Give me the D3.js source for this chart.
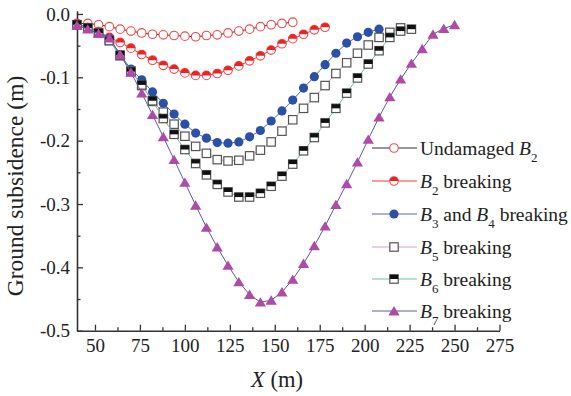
<!DOCTYPE html>
<html>
<head>
<meta charset="utf-8">
<script src="https://cdn.jsdelivr.net/npm/d3@7"></script>
<style>
  body { margin: 0; background: #fff; }
  svg { display: block; font-family: "Liberation Serif", "Times New Roman", serif; }
</style>
</head>
<body>
<svg id="chart" width="571" height="396"></svg>
<script>
// X position (m) of each measuring point
const xPos = [40, 46, 52, 58, 64, 70, 76, 82, 88, 94, 100, 106, 112, 118, 124, 130, 136, 142,
  148, 154, 160, 166, 172, 178, 184, 190, 196, 202, 208, 214, 220, 226, 232, 238, 244, 250];

const undamagedB2 = [-0.015, -0.015, -0.017, -0.020, -0.024, -0.027, -0.030, -0.032, -0.033, -0.034,
  -0.035, -0.036, -0.034, -0.033, -0.030, -0.027, -0.024, -0.020, -0.017, -0.015, -0.013];
const b2Breaking = [-0.016, -0.021, -0.028, -0.037, -0.045, -0.054, -0.064, -0.073, -0.081, -0.087,
  -0.093, -0.097, -0.097, -0.094, -0.089, -0.082, -0.074, -0.066, -0.057, -0.047, -0.039, -0.032,
  -0.025, -0.021];
const b3b4Breaking = [-0.017, -0.022, -0.030, -0.039, -0.064, -0.087, -0.104, -0.123, -0.141, -0.158,
  -0.174, -0.188, -0.196, -0.203, -0.204, -0.202, -0.194, -0.184, -0.169, -0.153, -0.136, -0.117,
  -0.099, -0.080, -0.062, -0.046, -0.036, -0.029, -0.024];
const b5Breaking = [-0.017, -0.022, -0.030, -0.042, -0.066, -0.090, -0.113, -0.138, -0.155, -0.174,
  -0.193, -0.209, -0.220, -0.230, -0.232, -0.231, -0.224, -0.215, -0.202, -0.185, -0.167, -0.149,
  -0.132, -0.113, -0.094, -0.077, -0.062, -0.049, -0.037, -0.029, -0.022];
const b6Breaking = [-0.017, -0.022, -0.030, -0.042, -0.065, -0.091, -0.112, -0.137, -0.165, -0.190,
  -0.214, -0.236, -0.254, -0.269, -0.281, -0.289, -0.289, -0.283, -0.272, -0.256, -0.237, -0.216,
  -0.195, -0.172, -0.149, -0.125, -0.101, -0.079, -0.058, -0.037, -0.027, -0.024];
const b7Breaking = [-0.018, -0.024, -0.031, -0.038, -0.064, -0.092, -0.125, -0.159, -0.194, -0.230,
  -0.266, -0.302, -0.337, -0.368, -0.397, -0.423, -0.443, -0.455, -0.452, -0.439, -0.419, -0.394,
  -0.366, -0.335, -0.301, -0.268, -0.234, -0.198, -0.163, -0.131, -0.103, -0.078, -0.055, -0.032,
  -0.023, -0.017];

const legendLabels = ['Undamaged B_2', 'B_2 breaking', 'B_3 and B_4 breaking',
  'B_5 breaking', 'B_6 breaking', 'B_7 breaking'];

const xTicks = [50, 75, 100, 125, 150, 175, 200, 225, 250, 275];
const xMinorTicks = [62.5, 87.5, 112.5, 137.5, 162.5, 187.5, 212.5, 237.5, 262.5];
const yTicks = [-0.5, -0.4, -0.3, -0.2, -0.1, 0.0];
const yTickLabels = ['-0.5', '-0.4', '-0.3', '-0.2', '-0.1', '0.0'];
const yMinorTicks = [-0.45, -0.35, -0.25, -0.15, -0.05];

const series = [
  { values: undamagedB2, line: '#333', marker: 'openCircle' },
  { values: b2Breaking, line: '#f23a3a', marker: 'halfCircle' },
  { values: b3b4Breaking, line: '#5468b0', marker: 'dot' },
  { values: b5Breaking, line: '#d99ad6', marker: 'openSquare' },
  { values: b6Breaking, line: '#6fc19d', marker: 'halfSquare' },
  { values: b7Breaking, line: '#5a5a9e', marker: 'triangle' }
];

const svg = d3.select('#chart');
const plotLeft = 77, plotRight = 499.5, plotTop = 10.8, plotBottom = 330.7;

const x = d3.scaleLinear().domain([40, 275]).range([plotLeft, plotRight]);
const y = d3.scaleLinear().domain([-0.5, 0.005]).range([plotBottom, plotTop]);

// axes, ticks pointing inward
svg.append('g')
  .attr('transform', `translate(0,${plotBottom})`)
  .call(d3.axisBottom(x).tickValues(xTicks).tickSizeInner(-6).tickSizeOuter(0).tickPadding(8));
svg.append('g')
  .attr('transform', `translate(0,${plotBottom})`)
  .call(d3.axisBottom(x).tickValues(xMinorTicks).tickSizeInner(-3.5).tickSizeOuter(0).tickFormat(''))
  .call(g => g.select('.domain').remove())
  .call(g => g.selectAll('text').remove());

svg.append('g')
  .attr('transform', `translate(${plotLeft},0)`)
  .call(d3.axisLeft(y).tickValues(yTicks).tickSizeInner(-6).tickSizeOuter(0).tickPadding(7)
    .tickFormat((d, i) => yTickLabels[i]));
svg.append('g')
  .attr('transform', `translate(${plotLeft},0)`)
  .call(d3.axisLeft(y).tickValues(yMinorTicks).tickSizeInner(-3.5).tickSizeOuter(0).tickFormat(''))
  .call(g => g.select('.domain').remove())
  .call(g => g.selectAll('text').remove());

svg.selectAll('.domain').attr('stroke', '#333').attr('stroke-width', 1.6);
svg.selectAll('.tick line').attr('stroke', '#333').attr('stroke-width', 1.3);
svg.selectAll('.tick text')
  .attr('font-family', '"Liberation Serif", serif')
  .attr('font-size', 19)
  .attr('fill', '#222');

// axis titles
svg.append('text')
  .attr('x', 277).attr('y', 387)
  .attr('text-anchor', 'middle')
  .attr('font-size', 22.5)
  .attr('fill', '#222')
  .call(t => {
    t.append('tspan').attr('font-style', 'italic').text('X');
    t.append('tspan').text(' (m)');
  });

svg.append('text')
  .attr('transform', 'translate(23,186) rotate(-90)')
  .attr('text-anchor', 'middle')
  .attr('font-size', 23.5)
  .attr('fill', '#222')
  .text('Ground subsidence (m)');

function drawMarker(g, type, cx, cy) {
  const r = 4.3;
  const s = 4.2;
  if (type === 'openCircle') {
    g.append('circle').attr('cx', cx).attr('cy', cy).attr('r', r)
      .attr('fill', '#fff').attr('stroke', '#f04848').attr('stroke-width', 1.1);
  } else if (type === 'halfCircle') {
    g.append('circle').attr('cx', cx).attr('cy', cy).attr('r', r)
      .attr('fill', '#fff').attr('stroke', '#f04848').attr('stroke-width', 1.1);
    g.append('path')
      .attr('d', `M${cx - r},${cy} A${r},${r} 0 0 1 ${cx + r},${cy} Z`)
      .attr('fill', '#ee2222');
  } else if (type === 'dot') {
    g.append('circle').attr('cx', cx).attr('cy', cy).attr('r', r + 0.3)
      .attr('fill', '#2a50a8');
  } else if (type === 'openSquare') {
    g.append('rect').attr('x', cx - s).attr('y', cy - s).attr('width', 2 * s).attr('height', 2 * s)
      .attr('fill', '#fff').attr('stroke', '#555').attr('stroke-width', 1.2);
  } else if (type === 'halfSquare') {
    g.append('rect').attr('x', cx - s).attr('y', cy - s).attr('width', 2 * s).attr('height', 2 * s)
      .attr('fill', '#fff').attr('stroke', '#555').attr('stroke-width', 1.2);
    g.append('rect').attr('x', cx - s).attr('y', cy - s).attr('width', 2 * s).attr('height', s)
      .attr('fill', '#111');
  } else if (type === 'triangle') {
    g.append('path')
      .attr('d', `M${cx},${cy - 5} L${cx + 5.6},${cy + 4.4} L${cx - 5.6},${cy + 4.4} Z`)
      .attr('fill', '#b04aa8');
  }
}

const line = d3.line()
  .x(d => x(d.x))
  .y(d => y(d.y));

series.forEach(s => {
  const pts = s.values.map((v, i) => ({ x: xPos[i], y: v }));
  const g = svg.append('g');
  g.append('path')
    .datum(pts)
    .attr('d', line)
    .attr('fill', 'none')
    .attr('stroke', s.line)
    .attr('stroke-width', 1);
  pts.forEach(p => drawMarker(g, s.marker, x(p.x), y(p.y)));
});

// legend
const legendY = [148, 181, 214, 247, 279, 311];
const subShift = 6.5;
const legend = svg.append('g');
series.forEach((s, i) => {
  const ly = legendY[i];
  legend.append('line')
    .attr('x1', 372).attr('x2', 417).attr('y1', ly).attr('y2', ly)
    .attr('stroke', s.line).attr('stroke-width', 1);
  drawMarker(legend, s.marker, 394, ly);

  const text = legend.append('text')
    .attr('x', 420).attr('y', ly + 7)
    .attr('font-size', 19.5)
    .attr('fill', '#222');
  let pendingDy = 0;
  legendLabels[i].split(/(B_\d)/).filter(p => p.length).forEach(part => {
    if (part.startsWith('B_')) {
      text.append('tspan').attr('font-style', 'italic').attr('dy', pendingDy).text('B');
      text.append('tspan').attr('font-size', 13).attr('dy', subShift).text(part.slice(2));
      pendingDy = -subShift;
    } else {
      text.append('tspan').attr('dy', pendingDy).text(part);
      pendingDy = 0;
    }
  });
});
</script>
</body>
</html>
